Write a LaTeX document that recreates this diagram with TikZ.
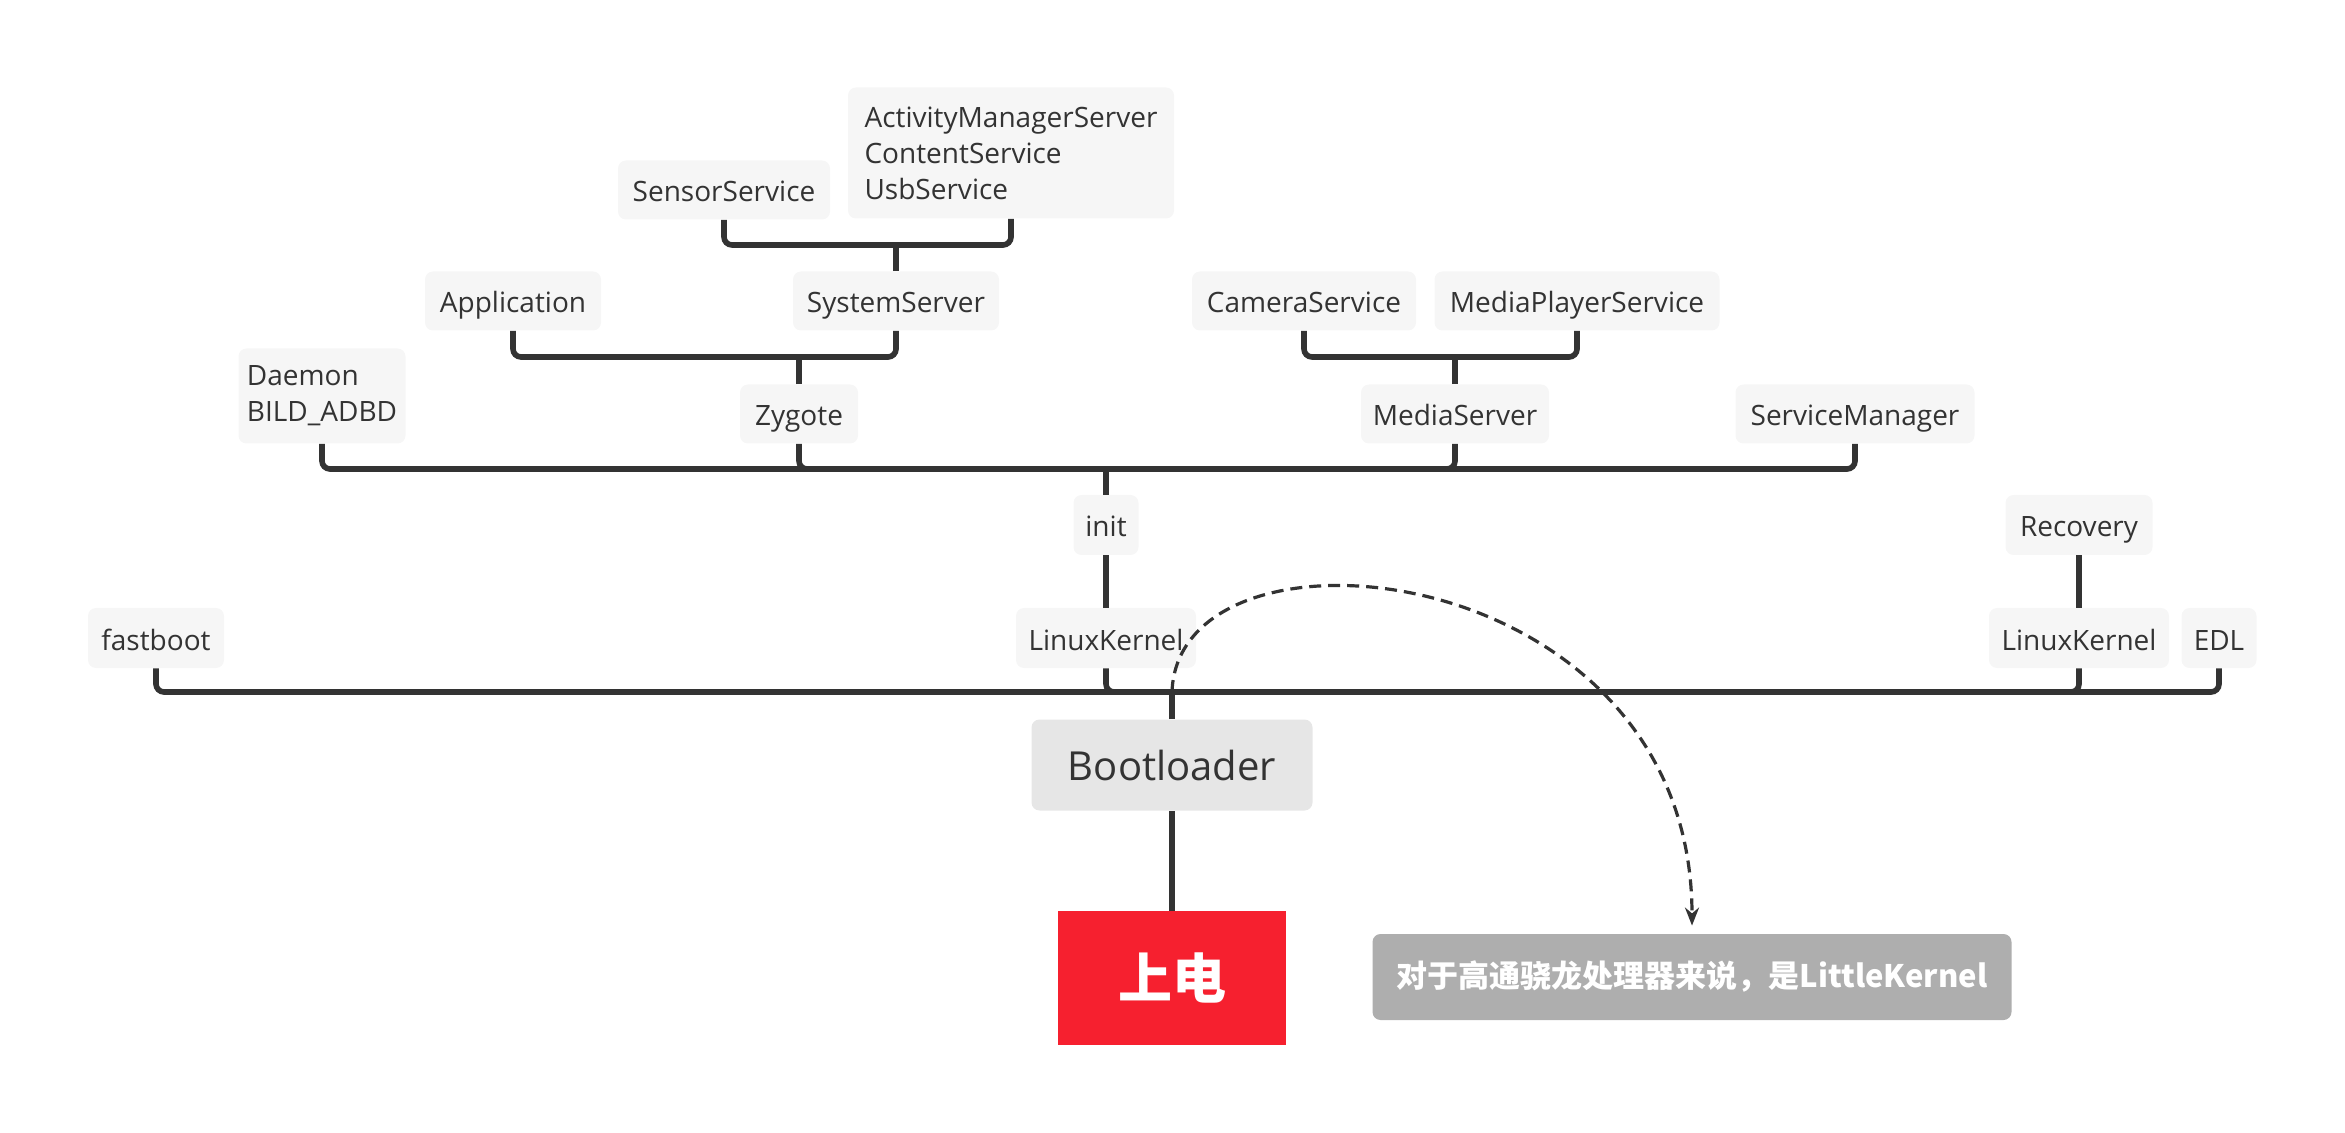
\documentclass[tikz,border=0pt]{standalone}
\usepackage{fontspec}
\setmainfont{Open Sans}
\newfontfamily\cjk{Noto Sans CJK SC}
\usetikzlibrary{arrows.meta}
\definecolor{txt}{HTML}{333333}
\definecolor{boxg}{HTML}{F6F6F6}
\definecolor{bootg}{HTML}{E6E6E6}
\definecolor{lin}{HTML}{333333}
\definecolor{pwr}{HTML}{F6202F}
\definecolor{noteg}{HTML}{AEAEAE}
\tikzset{
  topic/.style={rounded corners=4pt, fill=boxg, text=txt, inner sep=0pt,
    font=\fontsize{14}{18}\selectfont, minimum height=29.5pt, align=center},
  one/.style={text height=12pt, text depth=0pt},
  link/.style={draw=lin, line width=2.8pt, rounded corners=4pt},
}
\begin{document}
\begin{tikzpicture}[x=0.5pt, y=-0.5pt]
\useasboundingbox (0,0) rectangle (2345,1133);
% level boxes
\node[topic, one, minimum width=106pt] (sensor) at (724,190) {SensorService};
\node[topic, minimum width=163pt, minimum height=65.5pt, align=left] (ams) at (1011,153) {ActivityManagerServer\\ContentService\\UsbService};
\node[topic, one, minimum width=88pt] (app) at (513,301) {Application};
\node[topic, one, minimum width=103pt] (sys) at (896,301) {SystemServer};
\node[topic, one, minimum width=112pt] (cam) at (1304,301) {CameraService};
\node[topic, one, minimum width=142.5pt] (mps) at (1577,301) {MediaPlayerService};
\node[topic, minimum width=83.5pt, minimum height=47.5pt, align=left] (daemon) at (322,396) {Daemon\\BILD\_ADBD};
\node[topic, one, minimum width=59pt] (zyg) at (799,414) {Zygote};
\node[topic, one, minimum width=94pt] (media) at (1455,414) {MediaServer};
\node[topic, one, minimum width=119.5pt] (sm) at (1855,414) {ServiceManager};
\node[topic, one, minimum width=32.5pt, minimum height=30pt] (init) at (1106,525) {init};
\node[topic, one, minimum width=73.5pt, minimum height=30pt] (rec) at (2079,525) {Recovery};
\node[topic, one, minimum width=68pt, minimum height=30pt] (fast) at (156,638) {fastboot};
\node[topic, one, minimum width=90pt, minimum height=30pt] (lk) at (1106,638) {LinuxKernel};
\node[topic, one, minimum width=90pt, minimum height=30pt] (lkr) at (2079,638) {LinuxKernel};
\node[topic, one, minimum width=37.5pt, minimum height=30pt] (edl) at (2219,638) {EDL};
\node[topic, fill=bootg, minimum width=140.5pt, minimum height=45.5pt, text height=15.5pt, text depth=0pt, font=\fontsize{20}{24}\selectfont] (boot) at (1172,765) {Bootloader};
\node[fill=pwr, text=white, minimum width=114pt, minimum height=67pt, inner sep=0pt, font=\cjk\bfseries\fontsize{27}{30}\selectfont] (power) at (1172,978) {上电};
\node[rounded corners=4pt, fill=noteg, text=white, minimum width=319.5pt, minimum height=43pt, inner sep=0pt, font=\cjk\bfseries\fontsize{15.5}{18}\selectfont] (note) at (1692,977) {对于高通骁龙处理器来说，是LittleKernel};
% bus points
\coordinate (b1) at (1172,692);
\coordinate (b2) at (1106,469);
\coordinate (b3) at (799,357);
\coordinate (b4) at (1455,357);
\coordinate (b5) at (896,245);
% connectors
\draw[link] (power.north) -- (boot.south);
\draw[link] (boot.north) -- (b1);
\draw[link] (b1) -| (fast.south);
\draw[link] (b1) -| (lk.south);
\draw[link] (b1) -| (lkr.south);
\draw[link] (b1) -| (edl.south);
\draw[link] (lkr.north) -- (rec.south);
\draw[link] (lk.north) -- (init.south);
\draw[link] (init.north) -- (b2);
\draw[link] (b2) -| (daemon.south);
\draw[link] (b2) -| (zyg.south);
\draw[link] (b2) -| (media.south);
\draw[link] (b2) -| (sm.south);
\draw[link] (zyg.north) -- (b3);
\draw[link] (b3) -| (app.south);
\draw[link] (b3) -| (sys.south);
\draw[link] (media.north) -- (b4);
\draw[link] (b4) -| (cam.south);
\draw[link] (b4) -| (mps.south);
\draw[link] (sys.north) -- (b5);
\draw[link] (b5) -| (sensor.south);
\draw[link] (b5) -| (ams.south);
% dashed relation
\draw[draw=lin, line width=1.6pt, dash pattern=on 6pt off 3.5pt, -{Stealth[length=9pt, width=7pt]}, shorten >=4pt]
  (b1) .. controls (1178,505) and (1692,555) .. (note.north);
\end{tikzpicture}
\end{document}
